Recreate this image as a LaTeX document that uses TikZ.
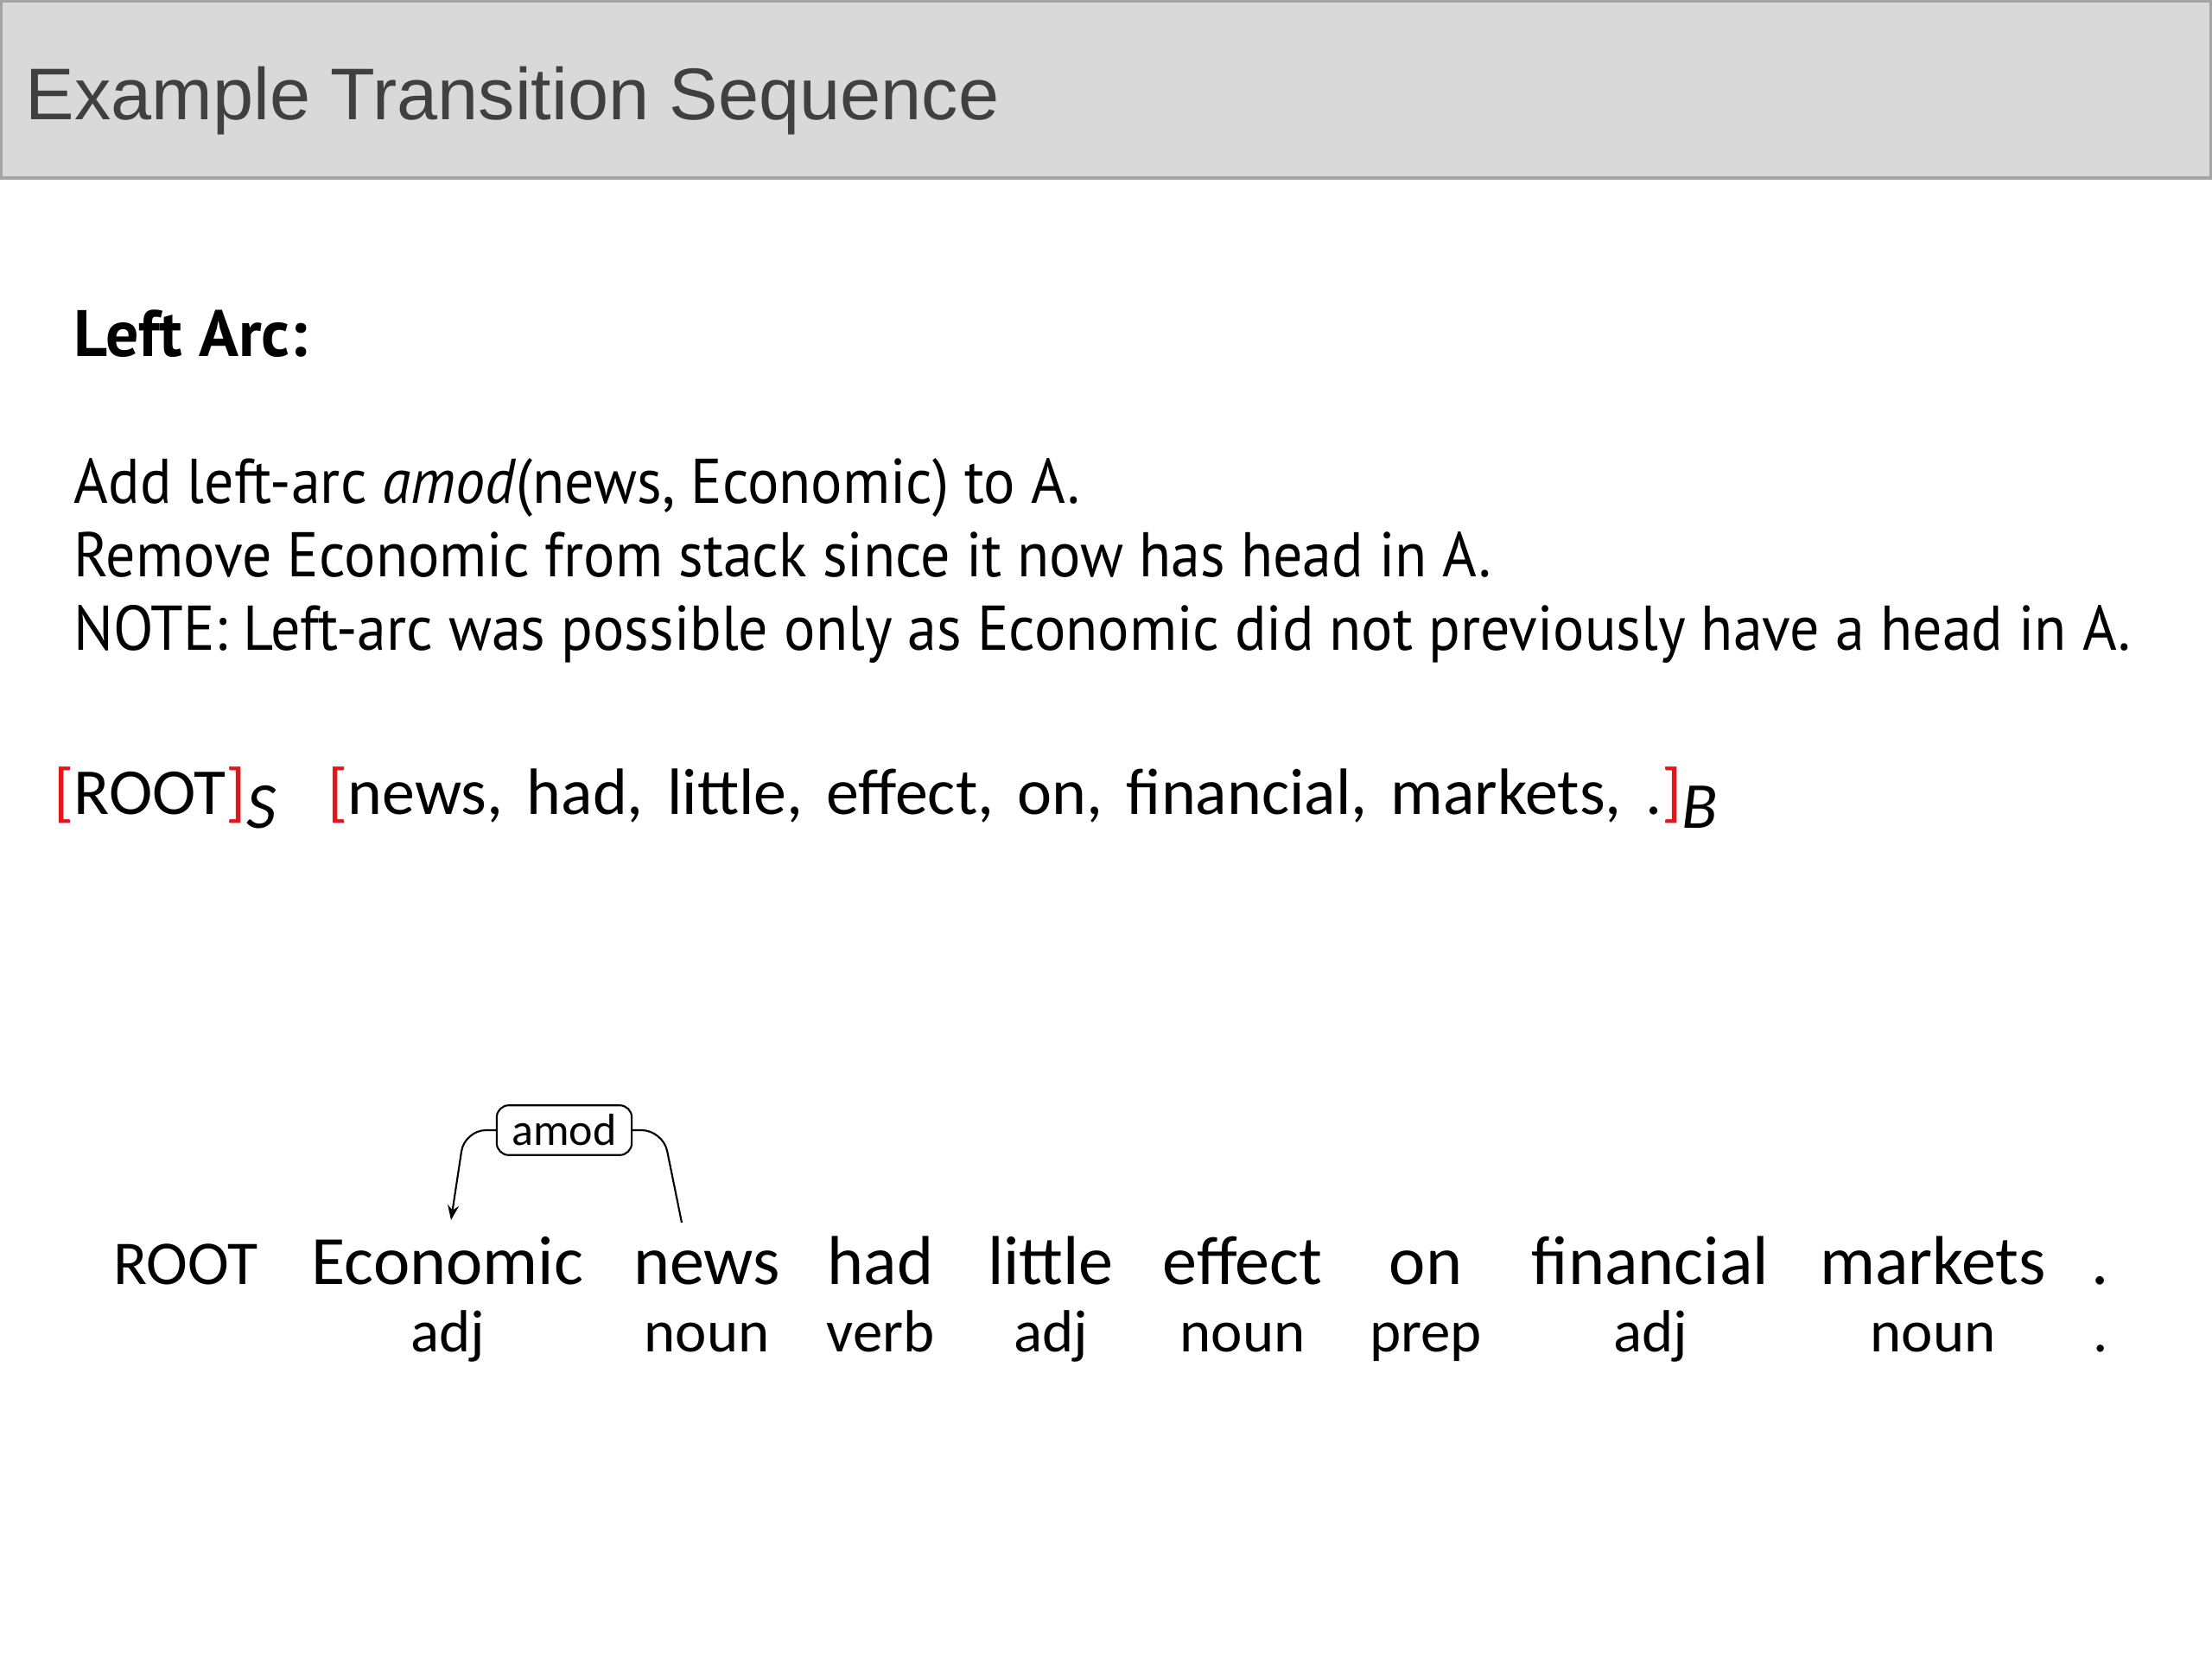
\documentclass[tikz,border=0pt]{standalone}
\usepackage{fontspec}
\usepackage{graphicx}
\setmainfont{PT Sans}
\newfontfamily\titlefont{Liberation Sans}
\newfontfamily\rowfont{Carlito}
\usetikzlibrary{arrows.meta,positioning}
\definecolor{headfill}{HTML}{D9D9D9}
\definecolor{headline}{HTML}{A3A3A3}
\definecolor{titlecolor}{HTML}{404040}
\definecolor{bracketred}{HTML}{E8141C}

\newcommand{\rbr}[1]{{\color{bracketred}#1}}
\newcommand{\narrowtxt}[1]{\scalebox{0.93}[1]{#1}}
\newcommand{\gap}{\hspace{0.36em}}

\tikzset{
  txt/.style={anchor=base west, inner sep=0pt, font=\fontsize{20.8}{25}\selectfont},
  word/.style={anchor=base, inner sep=2pt, text height=0.75em, text depth=0.2em, font=\rowfont\fontsize{22.8}{27}\selectfont},
  postag/.style={anchor=base, inner sep=2pt, font=\rowfont\fontsize{19.6}{24}\selectfont},
  deplabel/.style={draw, rounded corners=4pt, line width=0.6pt, inner xsep=5pt, inner ysep=3pt, font=\rowfont\fontsize{14.8}{18}\selectfont},
  deparc/.style={line width=0.6pt, rounded corners=7pt},
}

\begin{document}
\begin{tikzpicture}
  \useasboundingbox (0,0) rectangle (25.6,-19.2);
  % Header
  \draw[fill=headfill, draw=headline, line width=1.2pt] (0.01,-0.01) rectangle (25.59,-2.06);
  \node[anchor=base west, inner sep=0pt, text=titlecolor, font=\titlefont\fontsize{24.1}{28}\selectfont] (title) at (0.29,-1.39) {Example Transition Sequence};
  % Explanation
  \node[txt, font=\bfseries\fontsize{21.6}{25}\selectfont] (rule) at (0.85,-4.13) {Left Arc:};
  \node[txt] (line1) at (0.85,-5.83) {\narrowtxt{Add left-arc \textit{amod}(news, Economic) to A.}};
  \node[txt] (line2) at (0.85,-6.68) {\narrowtxt{Remove Economic from stack since it now has head in A.}};
  \node[txt] (line3) at (0.85,-7.53) {\narrowtxt{NOTE: Left-arc was possible only as Economic did not previously have a head in A.}};
  % Stack and buffer
  \node[anchor=base west, inner sep=0pt, font=\rowfont\fontsize{21.6}{27}\selectfont] (stack) at (0.62,-9.42)
    {\rbr{[}ROOT\rbr{]}\raisebox{-0.22em}{\itshape S}};
  \node[anchor=base west, inner sep=0pt, font=\rowfont\fontsize{21.6}{27}\selectfont] (buffer) at (3.79,-9.42)
    {\rbr{[}news,\gap had,\gap little,\gap effect,\gap on,\gap financial,\gap markets,\gap .\rbr{]}\raisebox{-0.22em}{\itshape B}};
  % Sentence
  \node[word, font=\rowfont\fontsize{20.5}{24}\selectfont] (w0) at (2.15,-14.86) {ROOT};
  \foreach \i/\x/\w/\p in {1/5.18/Economic/adj, 2/8.18/news/noun, 3/10.19/had/verb,
      4/12.16/little/adj, 5/14.38/effect/noun, 6/16.50/on/prep, 7/19.10/financial/adj,
      8/22.37/markets/noun, 9/24.31/./.} {
    \node[word] (w\i) at (\x,-14.86) {\w};
    \node[postag] (p\i) at (\x,-15.64) {\p};
  }
  % Arc
  \node[deplabel] (amod) at (6.53,-13.08) {amod};
  \draw[deparc, -{Stealth[length=0.17cm, width=0.13cm]}] (amod.west) -- ++(-0.36,0) -- ([shift={(0.04,0.40)}]w1.north);
  \draw[deparc] (amod.east) -- ++(0.35,0) -- ([shift={(-0.29,0.37)}]w2.north);
\end{tikzpicture}
\end{document}
